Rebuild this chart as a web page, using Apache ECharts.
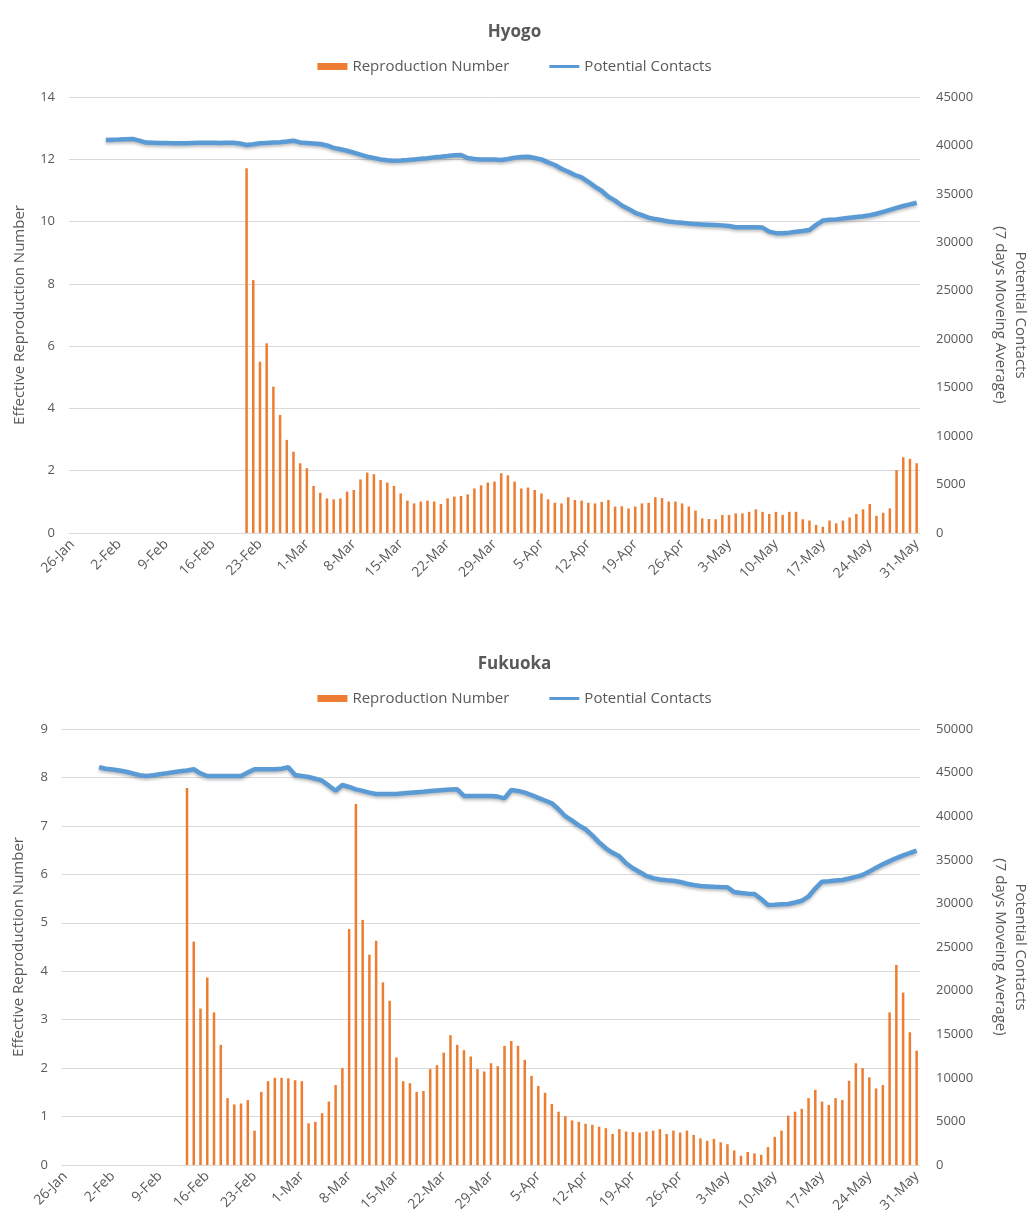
<!DOCTYPE html>
<html>
<head>
<meta charset="utf-8">
<script src="https://cdn.jsdelivr.net/npm/echarts@6/dist/echarts.min.js"></script>
<style>
  html, body { margin: 0; padding: 0; background: #fff; }
  #chart { width: 1029px; height: 1228px; }
</style>
</head>
<body>
<div id="chart"></div>
<script>
// days from 26-Jan to 31-May
const months = ['Jan', 'Feb', 'Mar', 'Apr', 'May']
const monthDays = [31, 29, 31, 30, 31]
const dates = []
for (let m = 0, d = 26; dates.length < 127; d++) {
  if (d > monthDays[m]) { m++; d = 1 }
  dates.push(d + '-' + months[m])
}

// Hyogo: reproduction number from 21-Feb, contacts from 31-Jan
const hyogoRStart = 26
const hyogoR = [11.71, 8.12, 5.50, 6.09, 4.70, 3.79, 2.99, 2.61, 2.24, 2.08,
  1.51, 1.29, 1.11, 1.08, 1.11, 1.33, 1.38, 1.72, 1.94, 1.89,
  1.70, 1.62, 1.51, 1.27, 1.04, 0.95, 1.01, 1.04, 1.01, 0.93,
  1.11, 1.17, 1.19, 1.24, 1.43, 1.53, 1.62, 1.65, 1.92, 1.85,
  1.65, 1.43, 1.46, 1.38, 1.27, 1.08, 0.97, 0.95, 1.15, 1.06,
  1.04, 0.97, 0.95, 1.00, 1.06, 0.85, 0.86, 0.79, 0.85, 0.95,
  0.97, 1.15, 1.12, 1.01, 1.01, 0.95, 0.85, 0.72, 0.47, 0.45,
  0.44, 0.58, 0.58, 0.63, 0.63, 0.68, 0.76, 0.68, 0.61, 0.68,
  0.58, 0.68, 0.68, 0.44, 0.40, 0.26, 0.20, 0.40, 0.31, 0.40,
  0.50, 0.61, 0.76, 0.93, 0.55, 0.65, 0.79, 2.02, 2.43, 2.38,
  2.24]
const hyogoCStart = 5
const hyogoC = [40560, 40600, 40620, 40650, 40660, 40500, 40300, 40280, 40260, 40250,
  40230, 40220, 40230, 40250, 40270, 40280, 40270, 40260, 40270, 40280,
  40200, 40050, 40120, 40220, 40260, 40300, 40320, 40400, 40490, 40300,
  40250, 40200, 40150, 40000, 39750, 39600, 39450, 39250, 39050, 38850,
  38700, 38560, 38480, 38420, 38440, 38500, 38560, 38620, 38680, 38770,
  38830, 38900, 38980, 39010, 38700, 38600, 38560, 38560, 38550, 38500,
  38600, 38730, 38800, 38830, 38700, 38560, 38250, 37980, 37600, 37290,
  36950, 36700, 36250, 35750, 35300, 34700, 34300, 33800, 33450, 33050,
  32800, 32550, 32400, 32280, 32150, 32080, 32020, 31950, 31880, 31850,
  31820, 31790, 31750, 31680, 31550, 31550, 31550, 31550, 31520, 31100,
  30950, 30930, 31000, 31100, 31180, 31280, 31800, 32250, 32320, 32370,
  32450, 32540, 32620, 32700, 32800, 32950, 33150, 33350, 33550, 33750,
  33920, 34090]

// Fukuoka: reproduction number from 13-Feb, contacts from 31-Jan
const fukuokaRStart = 18
const fukuokaR = [7.78, 4.61, 3.23, 3.87, 3.15, 2.48, 1.38, 1.25, 1.27, 1.34,
  0.71, 1.51, 1.73, 1.80, 1.80, 1.79, 1.75, 1.73, 0.86, 0.89,
  1.07, 1.31, 1.65, 2.00, 4.87, 7.45, 5.06, 4.34, 4.63, 3.77,
  3.39, 2.22, 1.73, 1.69, 1.51, 1.53, 1.98, 2.06, 2.32, 2.68,
  2.48, 2.37, 2.24, 1.98, 1.93, 2.10, 2.04, 2.46, 2.56, 2.46,
  2.17, 1.84, 1.63, 1.49, 1.26, 1.10, 1.01, 0.92, 0.89, 0.85,
  0.83, 0.79, 0.76, 0.64, 0.74, 0.69, 0.68, 0.67, 0.69, 0.71,
  0.74, 0.64, 0.71, 0.67, 0.71, 0.62, 0.55, 0.50, 0.54, 0.47,
  0.43, 0.30, 0.19, 0.27, 0.24, 0.21, 0.37, 0.58, 0.71, 1.02,
  1.10, 1.16, 1.38, 1.55, 1.31, 1.24, 1.38, 1.34, 1.74, 2.10,
  2.00, 1.81, 1.58, 1.65, 3.15, 4.13, 3.56, 2.74, 2.36]
const fukuokaCStart = 5
const fukuokaC = [45610, 45450, 45350, 45250, 45100, 44900, 44700, 44620, 44700, 44820,
  44930, 45050, 45150, 45250, 45380, 44900, 44610, 44610, 44610, 44610,
  44610, 44610, 45000, 45380, 45380, 45380, 45380, 45450, 45610, 44720,
  44600, 44500, 44300, 44070, 43500, 42920, 43580, 43350, 43080, 42900,
  42700, 42550, 42550, 42550, 42550, 42620, 42700, 42760, 42810, 42880,
  42950, 43000, 43050, 43080, 42320, 42320, 42320, 42320, 42320, 42250,
  42050, 43000, 42900, 42700, 42430, 42100, 41800, 41480, 40800, 40000,
  39500, 38950, 38500, 37800, 37000, 36320, 35800, 35400, 34600, 34030,
  33600, 33150, 32900, 32750, 32650, 32600, 32450, 32250, 32110, 32000,
  31950, 31900, 31870, 31850, 31300, 31200, 31120, 31080, 30500, 29820,
  29850, 29900, 29930, 30100, 30300, 30800, 31700, 32490, 32550, 32620,
  32680, 32850, 33050, 33260, 33650, 34100, 34480, 34850, 35200, 35500,
  35780, 36040]

const lead = (n, arr) => new Array(n).fill(null).concat(arr)

const txt = '#595959'
const font = 'Open Sans'
const gridColor = '#d9d9d9'
const orange = '#ED7D31'
const blue = '#5B9BD5'

const legendFor = (top) => ({
  top: top,
  left: 'center',
  itemWidth: 30,
  itemHeight: 7,
  itemGap: 40,
  textStyle: { color: txt, fontFamily: font, fontSize: 15 },
  data: [
    { name: 'Reproduction Number', icon: 'rect' },
    { name: 'Potential Contacts', icon: 'path://M0,0h30v3h-30z' }
  ]
})

const xAxisFor = (gridIndex) => ({
  type: 'category',
  gridIndex: gridIndex,
  data: dates,
  boundaryGap: true,
  axisLine: { lineStyle: { color: gridColor } },
  axisTick: { interval: 6, length: 4, lineStyle: { color: gridColor } },
  axisLabel: { interval: 6, rotate: 45, color: txt, fontFamily: font, fontSize: 14, margin: 9 }
})

const leftAxisFor = (gridIndex, max, interval, gap) => ({
  type: 'value',
  gridIndex: gridIndex,
  min: 0, max: max, interval: interval,
  name: 'Effective Reproduction Number',
  nameLocation: 'middle',
  nameRotate: 90,
  nameGap: gap,
  nameTextStyle: { color: txt, fontFamily: font, fontSize: 15 },
  axisLine: { show: false },
  axisTick: { show: false },
  axisLabel: { color: txt, fontFamily: font, fontSize: 13, margin: 14 },
  splitLine: { lineStyle: { color: gridColor } }
})

const rightAxisFor = (gridIndex, max) => ({
  type: 'value',
  gridIndex: gridIndex,
  position: 'right',
  min: 0, max: max, interval: 5000,
  name: 'Potential Contacts\n(7 days Moveing Average)',
  nameLocation: 'middle',
  nameRotate: -90,
  nameGap: 70,
  nameTextStyle: { color: txt, fontFamily: font, fontSize: 15, lineHeight: 20 },
  axisLine: { show: false },
  axisTick: { show: false },
  axisLabel: { color: txt, fontFamily: font, fontSize: 13, margin: 16, formatter: (v) => String(v) },
  splitLine: { show: false }
})

const barSeries = (xi, yi, data) => ({
  name: 'Reproduction Number',
  type: 'bar',
  xAxisIndex: xi, yAxisIndex: yi,
  barWidth: 2.5,
  clip: false,
  itemStyle: { color: orange },
  data: data
})

const lineSeries = (xi, yi, data) => ({
  name: 'Potential Contacts',
  type: 'line',
  xAxisIndex: xi, yAxisIndex: yi,
  symbol: 'none',
  lineStyle: { color: blue, width: 4.5, shadowColor: 'rgba(0,0,0,0.25)', shadowBlur: 3, shadowOffsetY: 2 },
  itemStyle: { color: blue },
  data: data
})

const chart = echarts.init(document.getElementById('chart'))
chart.setOption({
  animation: false,
  backgroundColor: '#fff',
  title: [
    { text: 'Hyogo', left: 'center', top: 19, textStyle: { color: txt, fontFamily: font, fontSize: 17, fontWeight: 'bold' } },
    { text: 'Fukuoka', left: 'center', top: 651, textStyle: { color: txt, fontFamily: font, fontSize: 17, fontWeight: 'bold' } }
  ],
  legend: [legendFor(54), legendFor(686)],
  grid: [
    { left: 69, right: 109, top: 97, height: 436, outerBoundsMode: 'none' },
    { left: 62, right: 109, top: 729, height: 436, outerBoundsMode: 'none' }
  ],
  xAxis: [xAxisFor(0), xAxisFor(1)],
  yAxis: [
    leftAxisFor(0, 14, 2, 42),
    rightAxisFor(0, 45000),
    leftAxisFor(1, 9, 1, 36),
    rightAxisFor(1, 50000)
  ],
  series: [
    barSeries(0, 0, lead(hyogoRStart, hyogoR)),
    lineSeries(0, 1, lead(hyogoCStart, hyogoC)),
    barSeries(1, 2, lead(fukuokaRStart, fukuokaR)),
    lineSeries(1, 3, lead(fukuokaCStart, fukuokaC))
  ]
})
</script>
</body>
</html>
